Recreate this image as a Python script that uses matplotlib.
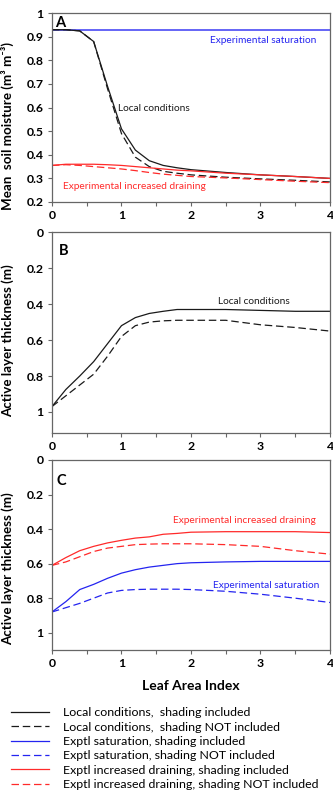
import matplotlib
matplotlib.use("Agg")
import matplotlib.pyplot as plt
from matplotlib.ticker import MultipleLocator, FixedLocator

plt.rcParams["font.family"] = ["Lato", "DejaVu Sans"]

BLACK, BLUE, RED = "#1a1a1a", "#2424f0", "#ff2a2a"
SPINE = "#666666"

# LAI grid shared by all series
lai = [0, 0.2, 0.4, 0.6, 0.8, 1.0, 1.2, 1.4, 1.6, 1.8, 2.0, 2.5, 3.0, 3.5, 4.0]

# Panel A: mean soil moisture
sat_level = 0.93
a_local_shade = [0.93, 0.93, 0.925, 0.88, 0.69, 0.51, 0.42, 0.375, 0.355, 0.345, 0.337, 0.325, 0.315, 0.308, 0.30]
a_local_noshade = [0.93, 0.93, 0.925, 0.88, 0.68, 0.49, 0.39, 0.35, 0.33, 0.322, 0.315, 0.305, 0.298, 0.292, 0.285]
a_drain_shade = [0.355, 0.36, 0.36, 0.36, 0.358, 0.355, 0.35, 0.345, 0.34, 0.335, 0.332, 0.322, 0.315, 0.308, 0.30]
a_drain_noshade = [0.355, 0.358, 0.355, 0.35, 0.345, 0.34, 0.333, 0.325, 0.318, 0.313, 0.308, 0.302, 0.295, 0.288, 0.282]

# Panel B: active layer thickness, local conditions
b_local_shade = [0.97, 0.875, 0.80, 0.72, 0.62, 0.52, 0.475, 0.452, 0.44, 0.43, 0.43, 0.43, 0.435, 0.44, 0.44]
b_local_noshade = [0.97, 0.91, 0.85, 0.79, 0.69, 0.58, 0.52, 0.50, 0.493, 0.49, 0.49, 0.49, 0.515, 0.53, 0.55]

# Panel C: active layer thickness, experimental treatments
c_drain_shade = [0.61, 0.565, 0.525, 0.50, 0.48, 0.465, 0.452, 0.445, 0.43, 0.425, 0.418, 0.415, 0.415, 0.415, 0.42]
c_drain_noshade = [0.61, 0.59, 0.56, 0.53, 0.51, 0.50, 0.49, 0.487, 0.485, 0.485, 0.485, 0.49, 0.50, 0.525, 0.545]
c_sat_shade = [0.88, 0.82, 0.75, 0.72, 0.685, 0.655, 0.635, 0.62, 0.61, 0.60, 0.595, 0.59, 0.587, 0.587, 0.587]
c_sat_noshade = [0.88, 0.855, 0.83, 0.80, 0.77, 0.755, 0.75, 0.748, 0.748, 0.748, 0.75, 0.76, 0.777, 0.80, 0.825]

a_ticks = [0.2, 0.3, 0.4, 0.5, 0.6, 0.7, 0.8, 0.9, 1.0]
a_ticklabels = ["0.2", "0.3", "0.4", "0.5", "0.6", "0.7", "0.8", "0.9", "1"]
alt_ticks = [0, 0.2, 0.4, 0.6, 0.8, 1.0]
alt_ticklabels = ["0", "0.2", "0.4", "0.6", "0.8", "1"]
x_ticks = [0, 1, 2, 3, 4]

DASH = (6, 3)
LW = 0.9
YLAB_X = -0.135

fig = plt.figure(figsize=(3.33, 8), dpi=100)
axA = fig.add_axes([0.156, 0.7475, 0.835, 0.236])
axB = fig.add_axes([0.156, 0.45875, 0.835, 0.251])
axC = fig.add_axes([0.156, 0.1875, 0.835, 0.2375])


def style(ax, letter, lx, ly):
    for s in ax.spines.values():
        s.set_color(SPINE)
        s.set_linewidth(0.9)
    ax.set_xlim(0, 4)
    ax.xaxis.set_major_locator(FixedLocator(x_ticks))
    ax.xaxis.set_minor_locator(MultipleLocator(0.5))
    ax.tick_params(axis="both", which="both", colors=SPINE, direction="out", length=3, width=0.8)
    ax.tick_params(axis="both", labelcolor="black", labelsize=8.8, pad=3)
    for t in ax.get_xticklabels() + ax.get_yticklabels():
        t.set_fontweight("bold")
    ax.text(lx, ly, letter, transform=ax.transAxes, ha="left", va="top",
            fontsize=10.5, fontweight="bold")


# A
axA.axhline(sat_level, color="#4a4af5", lw=1.2)
axA.plot(lai, a_local_shade, color=BLACK, lw=LW)
axA.plot(lai, a_local_noshade, color=BLACK, lw=LW, dashes=DASH)
axA.plot(lai, a_drain_shade, color=RED, lw=LW)
axA.plot(lai, a_drain_noshade, color=RED, lw=LW, dashes=DASH)
axA.set_ylim(0.2, 1.0)
axA.set_yticks(a_ticks, a_ticklabels)
axA.text(2.27, 0.883, "Experimental saturation", color=BLUE, fontsize=7.3, va="center")
axA.text(0.95, 0.597, "Local conditions", color=BLACK, fontsize=7.3, va="center")
axA.text(0.16, 0.267, "Experimental increased draining", color=RED, fontsize=7.3, va="center")
axA.set_ylabel("Mean  soil moisture (m³ m⁻³)", fontsize=9.6, fontweight="bold")
axA.yaxis.set_label_coords(YLAB_X, 0.40)
style(axA, "A", 0.01, 0.985)

# B
axB.plot(lai, b_local_shade, color=BLACK, lw=LW, label="Local conditions,  shading included")
axB.plot(lai, b_local_noshade, color=BLACK, lw=LW, dashes=DASH,
         label="Local conditions,  shading NOT included")
axB.set_ylim(1.117, 0)
axB.set_yticks(alt_ticks, alt_ticklabels)
axB.text(2.39, 0.383, "Local conditions", color=BLACK, fontsize=7.3, va="center")
axB.set_ylabel("Active layer thickness (m)", fontsize=9.6, fontweight="bold")
axB.yaxis.set_label_coords(YLAB_X, 0.46)
style(axB, "B", 0.025, 0.94)

# C
axC.plot(lai, c_sat_shade, color=BLUE, lw=LW, label="Exptl saturation, shading included")
axC.plot(lai, c_sat_noshade, color=BLUE, lw=LW, dashes=DASH,
         label="Exptl saturation, shading NOT included")
axC.plot(lai, c_drain_shade, color=RED, lw=LW, label="Exptl increased draining, shading included")
axC.plot(lai, c_drain_noshade, color=RED, lw=LW, dashes=DASH,
         label="Exptl increased draining, shading NOT included")
axC.set_ylim(1.1, 0)
axC.set_yticks(alt_ticks, alt_ticklabels)
axC.text(1.74, 0.351, "Experimental increased draining", color=RED, fontsize=7.3, va="center")
axC.text(2.31, 0.727, "Experimental saturation", color=BLUE, fontsize=7.3, va="center")
axC.set_ylabel("Active layer thickness (m)", fontsize=9.6, fontweight="bold")
axC.yaxis.set_label_coords(YLAB_X, 0.43)
axC.set_xlabel("Leaf Area Index", fontsize=10, fontweight="bold", labelpad=8)
style(axC, "C", 0.018, 0.925)

handles, labels = [], []
for ax in (axB, axC):
    h, l = ax.get_legend_handles_labels()
    handles += h
    labels += l
fig.legend(handles, labels, loc="upper left", bbox_to_anchor=(0.033, 0.116),
           frameon=False, fontsize=8.9, handlelength=3.1, handletextpad=1.1,
           labelspacing=0.27, borderpad=0, borderaxespad=0)

fig.savefig("out.png", dpi=100)
